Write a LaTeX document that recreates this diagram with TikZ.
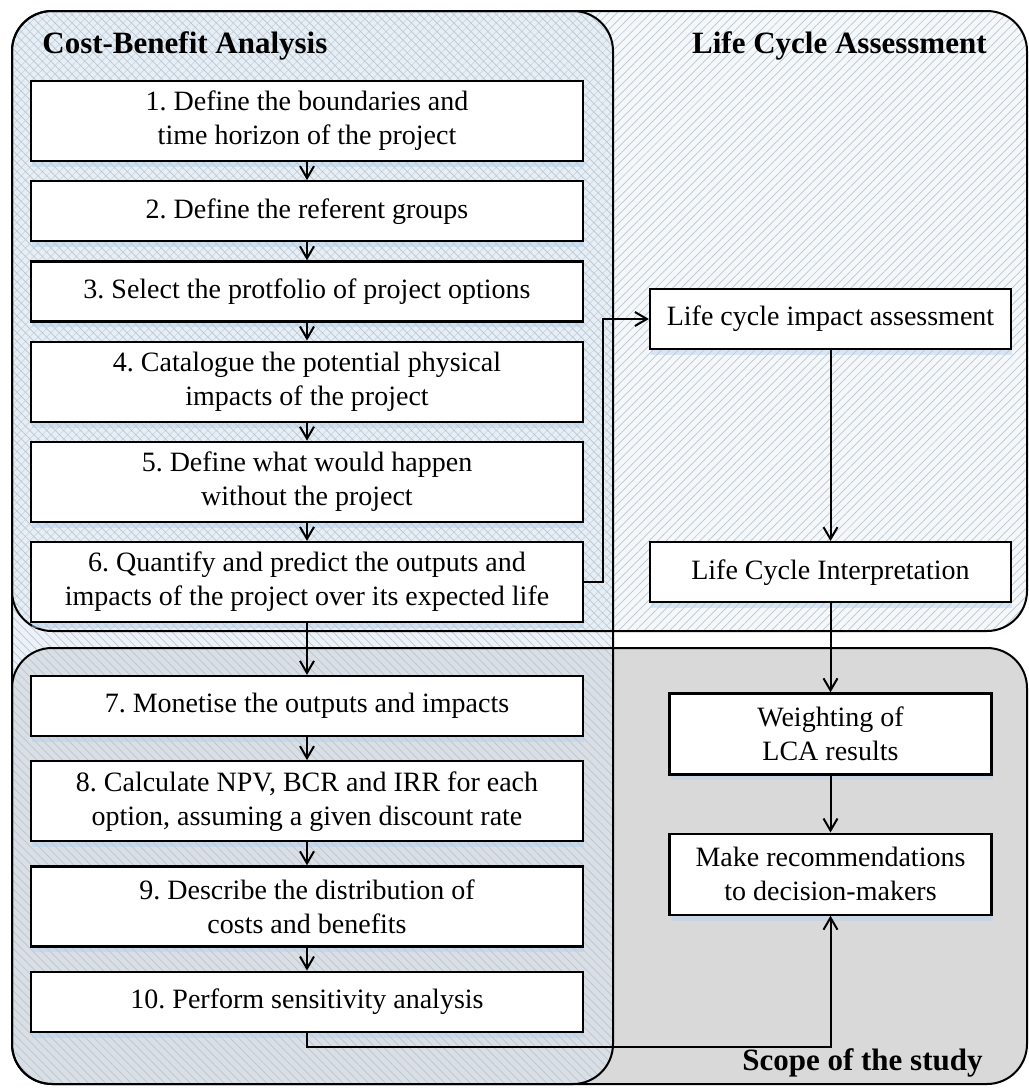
\documentclass[tikz,border=0pt]{standalone}
\usepackage{fontspec}
\setmainfont{Liberation Serif}
\frenchspacing
\usetikzlibrary{positioning, arrows.meta, patterns.meta, shadows}

\newcommand\boxfont{\fontsize{14}{17}\selectfont}
\newcommand\headfont{\fontsize{15.5}{18}\selectfont\bfseries}

\definecolor{lcafill}{HTML}{F4F8FB}
\definecolor{cbafill}{HTML}{DAE6F2}
\definecolor{scopefill}{HTML}{D9D9D9}
\definecolor{hatch}{HTML}{BCC5CE}
\definecolor{glow}{HTML}{B4D0EC}

\tikzset{
  region/.style={rounded corners=20pt},
  stepbox/.style={draw, line width=1.1pt, fill=white, minimum width=276pt, minimum height=30pt,
    inner sep=2pt, align=center, font=\boxfont,
    drop shadow={shadow xshift=0.5pt, shadow yshift=-3pt, fill=glow, opacity=.45}},
  tallbox/.style={stepbox, minimum height=40pt},
  lcabox/.style={stepbox, minimum width=180.5pt},
  scopebox/.style={stepbox, minimum width=161pt, minimum height=40.5pt},
  headtext/.style={font=\headfont, inner sep=0pt},
  arr/.style={-{Straight Barb[length=6pt,width=7pt]}, line width=1pt},
}

\begin{document}
\begin{tikzpicture}[x=0.5pt, y=-0.5pt, node distance=9pt]
\useasboundingbox (0,0) rectangle (1029,1088);

% the three areas
\fill[lcafill, region] (12,11) rectangle (1027,631);
\fill[region, pattern={Lines[angle=45,distance=3pt,line width=0.35pt]}, pattern color=hatch] (12,11) rectangle (1027,631);
\fill[scopefill, region] (12,648) rectangle (1027,1084);
\fill[cbafill, opacity=.5, region] (12,11) rectangle (613,1084);
\fill[region, pattern={Lines[angle=-45,distance=3pt,line width=0.35pt]}, pattern color=hatch] (12,11) rectangle (613,1084);
\draw[region, line width=1pt] (12,11) rectangle (1027,631);
\draw[region, line width=1pt] (12,648) rectangle (1027,1084);
\draw[region, line width=1pt] (12,11) rectangle (613,1084);

\node[headtext, anchor=base west] (cbatitle)   at (42,53)    {Cost-Benefit Analysis};
\node[headtext, anchor=base east] (lcatitle)   at (987,53)   {Life Cycle Assessment};
\node[headtext, anchor=base east] (scopetitle) at (983,1070) {Scope of the study};

% cost-benefit steps
\node[tallbox] (step1) at (307,121) {1. Define the boundaries and\\time horizon of the project};
\node[stepbox, below=of step1] (step2) {2. Define the referent groups};
\node[stepbox, below=of step2] (step3) {3. Select the protfolio of project options};
\node[tallbox, below=of step3] (step4) {4. Catalogue the potential physical\\impacts of the project};
\node[tallbox, below=of step4] (step5) {5. Define what would happen\\without the project};
\node[tallbox, below=of step5] (step6) {6. Quantify and predict the outputs and\\impacts of the project over its expected life};
\node[stepbox] (step7) at (307,706) {7. Monetise the outputs and impacts};
\node[tallbox, below=11.5pt of step7] (step8) {8. Calculate NPV, BCR and IRR for each\\option, assuming a given discount rate};
\node[tallbox, below=11.5pt of step8] (step9) {9. Describe the distribution of\\costs and benefits};
\node[stepbox, below=11.5pt of step9] (step10) {10. Perform sensitivity analysis};

% life cycle steps
\node[lcabox] (lcia) at (830.5,319) {Life cycle impact assessment};
\node[lcabox, below=95.5pt of lcia] (interp) {Life Cycle Interpretation};
\node[scopebox, below=44.5pt of interp] (weight) {Weighting of\\LCA results};
\node[scopebox, below=28.5pt of weight] (recom) {Make recommendations\\to decision-makers};

\foreach \a/\b in {step1/step2, step2/step3, step3/step4, step4/step5, step5/step6,
  step6/step7, step7/step8, step8/step9, step9/step10, lcia/interp, interp/weight, weight/recom}
  \draw[arr] (\a) -- (\b);
\draw[arr] (step6.east) -- ++(19,0) |- (lcia.west);
\draw[arr] (step10.south) -- ++(0,14) -| (recom.south);
\end{tikzpicture}
\end{document}
